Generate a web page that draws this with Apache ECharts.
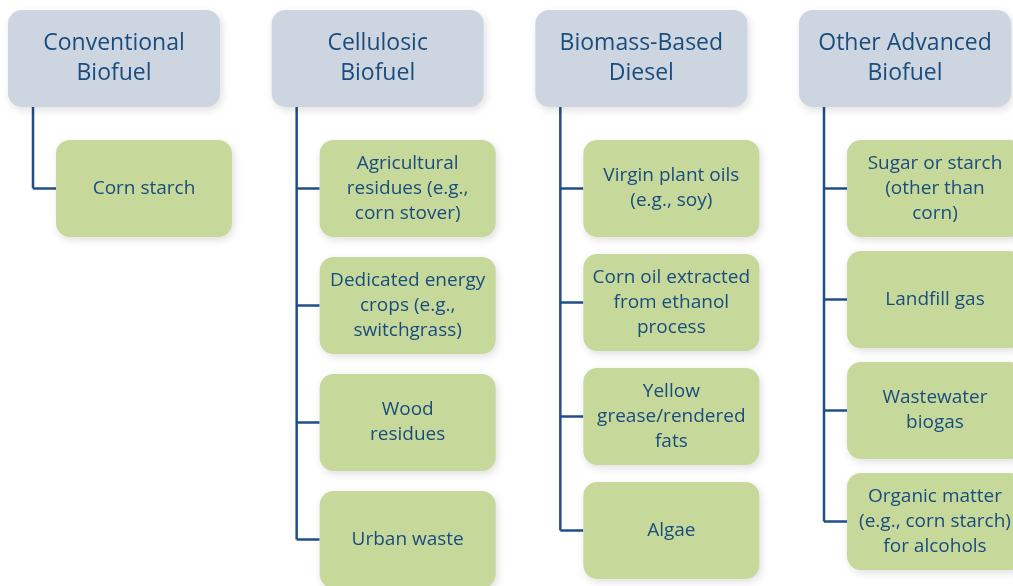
<!DOCTYPE html>
<html>
<head>
<meta charset="utf-8">
<script src="https://cdn.jsdelivr.net/npm/echarts@6/dist/echarts.min.js"></script>
<style>
  html, body { margin: 0; padding: 0; background: #fff; }
  #chart { width: 1013px; height: 586px; }
</style>
</head>
<body>
<div id="chart"></div>
<script>
// fuel categories (column headers)
const fuelTypes = ["Conventional\nBiofuel", "Cellulosic\nBiofuel", "Biomass-Based\nDiesel", "Other Advanced\nBiofuel"];

// feedstocks under each category
const conventionalFeedstocks = ["Corn starch"];
const cellulosicFeedstocks = ["Agricultural\nresidues (e.g.,\ncorn stover)", "Dedicated energy\ncrops (e.g.,\nswitchgrass)", "Wood\nresidues", "Urban waste"];
const dieselFeedstocks = ["Virgin plant oils\n(e.g., soy)", "Corn oil extracted\nfrom ethanol\nprocess", "Yellow\ngrease/rendered\nfats", "Algae"];
const advancedFeedstocks = ["Sugar or starch\n(other than\ncorn)", "Landfill gas", "Wastewater\nbiogas", "Organic matter\n(e.g., corn starch)\nfor alcohols"];

const feedstocks = [conventionalFeedstocks, cellulosicFeedstocks, dieselFeedstocks, advancedFeedstocks];

// layout (px along y axis, box sizes)
const headTop = 10, headH = 97, headW = 212;
const childTop = 140, childH = 97, childW = 176, childIndent = 48, lineIndent = 25;
const rowPitch = [117, 117, 114, 111];

const textColor = "#1a4c7e";
const lineColor = "#1f4e88";
const font = '"Open Sans", sans-serif';

const headerData = fuelTypes.map((t, c) => [c, headTop]);
const childItems = [];
feedstocks.forEach((list, c) => list.map((name, r) => childItems.push({ col: c, row: r, name: name })));
const childData = childItems.map(d => [d.col, childTop + d.row * rowPitch[d.col]]);
const connectorData = feedstocks.map((list, c) => [c, list.length]);

const shadow = { shadowBlur: 8, shadowOffsetX: 2, shadowOffsetY: 3, shadowColor: "rgba(0,0,0,0.13)" };

function renderHeader(params, api) {
  const col = api.value(0);
  const p0 = api.coord([col, api.value(1)]);
  const p1 = api.coord([col, api.value(1) + headH]);
  return {
    type: "group",
    children: [
      { type: "rect", shape: { x: p0[0] - headW / 2, y: p0[1], width: headW, height: p1[1] - p0[1], r: 14 },
        style: Object.assign({ fill: "#cdd6e0" }, shadow) },
      { type: "text", x: p0[0], y: (p0[1] + p1[1]) / 2,
        style: { text: fuelTypes[col], align: "center", verticalAlign: "middle", font: "500 23px " + font, lineHeight: 30, fill: textColor } }
    ]
  };
}

function renderChild(params, api) {
  const col = api.value(0);
  const p0 = api.coord([col, api.value(1)]);
  const p1 = api.coord([col, api.value(1) + childH]);
  const x = p0[0] - headW / 2 + childIndent;
  return {
    type: "group",
    children: [
      { type: "rect", shape: { x: x, y: p0[1], width: childW, height: p1[1] - p0[1], r: 14 },
        style: Object.assign({ fill: "#c6d99b" }, shadow) },
      { type: "text", x: x + childW / 2, y: (p0[1] + p1[1]) / 2,
        style: { text: childItems[params.dataIndex].name, align: "center", verticalAlign: "middle", font: "500 19px " + font, lineHeight: 25, fill: textColor } }
    ]
  };
}

function renderConnector(params, api) {
  const col = api.value(0);
  const n = api.value(1);
  const top = api.coord([col, headTop + headH]);
  const lx = top[0] - headW / 2 + lineIndent;
  const bx = top[0] - headW / 2 + childIndent;
  const ys = [];
  for (let r = 0; r < n; r++) ys.push(api.coord([col, childTop + r * rowPitch[col] + childH / 2])[1]);
  const style = { stroke: lineColor, lineWidth: 2.5, fill: null };
  const children = [
    { type: "line", shape: { x1: lx, y1: top[1], x2: lx, y2: ys[n - 1] }, style: style }
  ];
  ys.forEach(y => children.push({ type: "line", shape: { x1: lx, y1: y, x2: bx, y2: y }, style: style }));
  return { type: "group", children: children };
}

const chart = echarts.init(document.getElementById("chart"));
chart.setOption({
  animation: false,
  grid: { left: 114, right: 108, top: 0, bottom: 0 },
  xAxis: { type: "value", min: 0, max: 3, show: false },
  yAxis: { type: "value", min: 0, max: 586, inverse: true, show: false },
  series: [
    { type: "custom", renderItem: renderConnector, data: connectorData, z: 1 },
    { type: "custom", renderItem: renderHeader, data: headerData, z: 2 },
    { type: "custom", renderItem: renderChild, data: childData, z: 2 }
  ]
});
</script>
</body>
</html>
